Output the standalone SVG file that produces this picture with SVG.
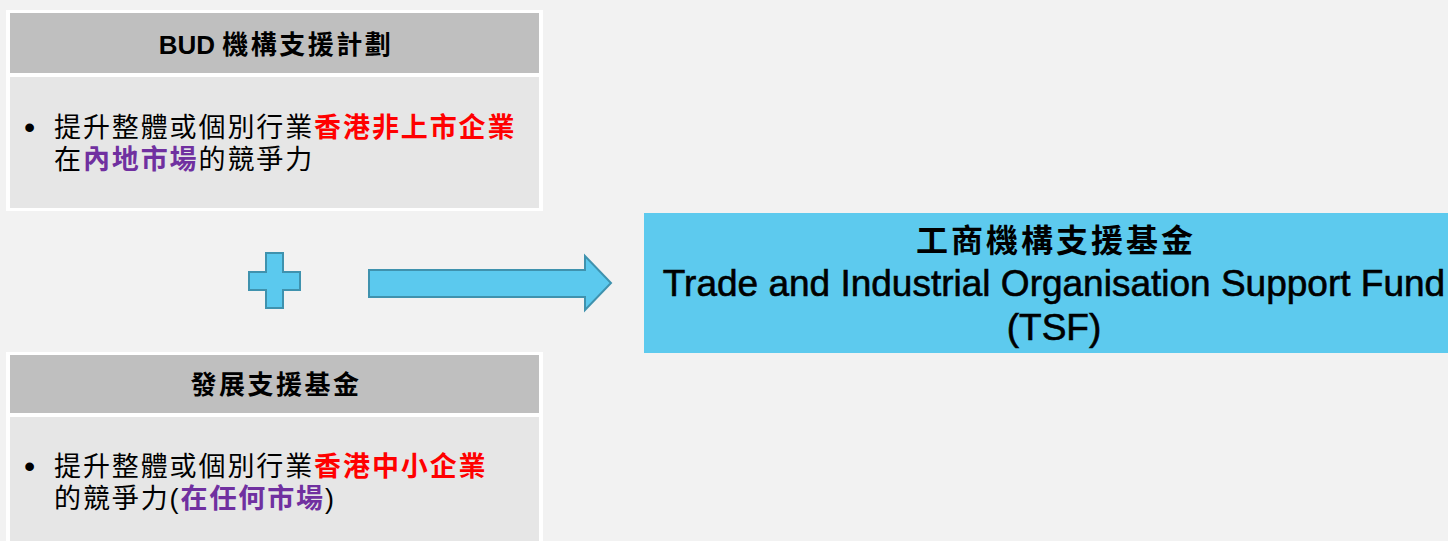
<svg xmlns="http://www.w3.org/2000/svg" width="1448" height="541" viewBox="0 0 1448 541">
<style>
.hdr{fill:#BFBFBF}
.body{fill:#E6E6E6}
.frame{fill:#FFFFFF}
.t{font-family:"Liberation Sans","Noto Sans CJK TC",sans-serif;fill:#000}
.h{font-size:26px;font-weight:bold;letter-spacing:2.5px}
.b{font-size:27px;letter-spacing:1.9px}
.red{fill:#FF0000;font-weight:bold}
.pur{fill:#7030A0;font-weight:bold}
.shape{fill:#5BC9EE;stroke:#3F92AE;stroke-width:2}
</style>
<rect width="1448" height="541" fill="#F2F2F2"/>
<g id="bud">
<rect class="frame" x="6" y="10" width="537" height="201"/>
<rect class="hdr" x="10" y="13" width="529" height="60"/>
<rect class="body" x="10" y="77" width="529" height="131"/>
<text class="t h" x="276" y="54" text-anchor="middle"><tspan letter-spacing="0">BUD </tspan>機構支援計劃</text>
<text class="t" x="24" y="138" font-size="32">•</text>
<text class="t b" x="54" y="137">提升整體或個別行業<tspan class="red">香港非上市企業</tspan></text>
<text class="t b" x="54" y="169">在<tspan class="pur">內地市場</tspan>的競爭力</text>
</g>
<g id="dsf">
<rect class="frame" x="6" y="352" width="537" height="195"/>
<rect class="hdr" x="10" y="355" width="529" height="58"/>
<rect class="body" x="10" y="417" width="529" height="130"/>
<text class="t h" x="276" y="394" text-anchor="middle">發展支援基金</text>
<text class="t" x="24" y="477" font-size="32">•</text>
<text class="t b" x="54" y="476">提升整體或個別行業<tspan class="red">香港中小企業</tspan></text>
<text class="t b" x="54" y="508">的競爭力(<tspan class="pur">在任何市場</tspan>)</text>
</g>
<g id="plus">
<path class="shape" d="M266,253 H283 V272 H300 V290 H283 V308 H266 V290 H249 V272 H266 Z"/>
</g>
<g id="connectors">
<path class="shape" d="M369,270 H585 V256 L611,283 L585,310 V297 H369 Z"/>
</g>
<g id="tsf">
<rect x="644" y="213" width="804" height="140" fill="#5DCAEE"/>
<text class="t" x="1056" y="252" text-anchor="middle" font-size="32" font-weight="bold" letter-spacing="3">工商機構支援基金</text>
<text class="t" x="1054" y="296" text-anchor="middle" font-size="37" stroke="#000" stroke-width="0.6">Trade and Industrial Organisation Support Fund</text>
<text class="t" x="1054" y="340" text-anchor="middle" font-size="37" stroke="#000" stroke-width="0.6">(TSF)</text>
</g>
</svg>
